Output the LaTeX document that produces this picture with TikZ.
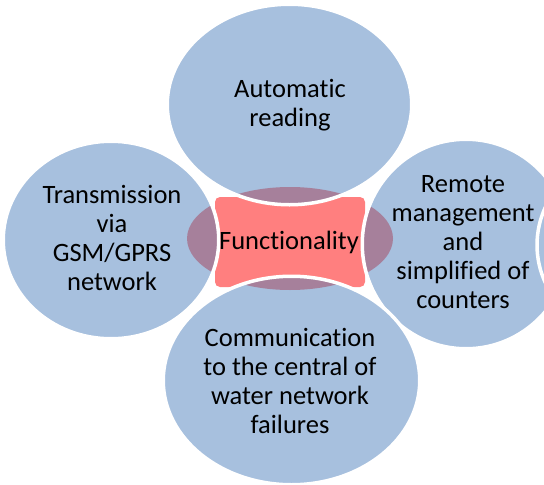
\documentclass[tikz,border=0pt]{standalone}
\usepackage{fontspec}
\setmainfont[Ligatures=NoCommon]{Carlito}
\usetikzlibrary{shapes.geometric}
\definecolor{bubbleblue}{RGB}{167,192,222}
\definecolor{corepink}{RGB}{255,127,127}
\definecolor{coremauve}{RGB}{166,128,155}

\begin{document}
\begin{tikzpicture}
[x=1pt, y=-1pt, every node/.style={inner sep=0pt, outer sep=0pt},
 bubble/.style={ellipse, fill=bubbleblue, draw=white, line width=3.5pt,
   path picture={\fill [coremauve] (ring) ellipse [x radius=103pt, y radius=51.5pt];}},
 caption/.style={align=center, text=black, font=\fontsize{26.5}{29}\selectfont}]
\useasboundingbox (0,0) rectangle (544,485);
\coordinate (ring) at (290,238.5);
\node (core) [rectangle, rounded corners=5pt, fill=corepink, minimum width=150pt, minimum height=90pt] at (290,242) {};
\node (read) [bubble, minimum width=244.5pt, minimum height=200.5pt] at (289.5,104.5) {};
\node (trans) [bubble, minimum width=215.5pt, minimum height=197.5pt] at (111,240) {};
\node (remote) [bubble, minimum width=207.5pt, minimum height=209.5pt] at (466,244) {};
\node (comm) [bubble, minimum width=256.5pt, minimum height=208.5pt] at (291.5,380.5) {};
\node (next) [bubble, minimum width=226pt, minimum height=200pt] at (650,245) {};
\node (core-txt) [caption] at (289,242) {Functionality};
\node (read-txt) [caption] at (290,105) {Automatic\\reading};
\node (trans-txt) [caption] at (112,238) {Transmission\\via\\GSM/GPRS\\network};
\node (remote-txt) [caption] at (463,242) {Remote\\management\\and\\simplified of\\counters};
\node (comm-txt) [caption] at (290,381) {Communication\\to the central of\\water network\\failures};
\end{tikzpicture}
\end{document}
